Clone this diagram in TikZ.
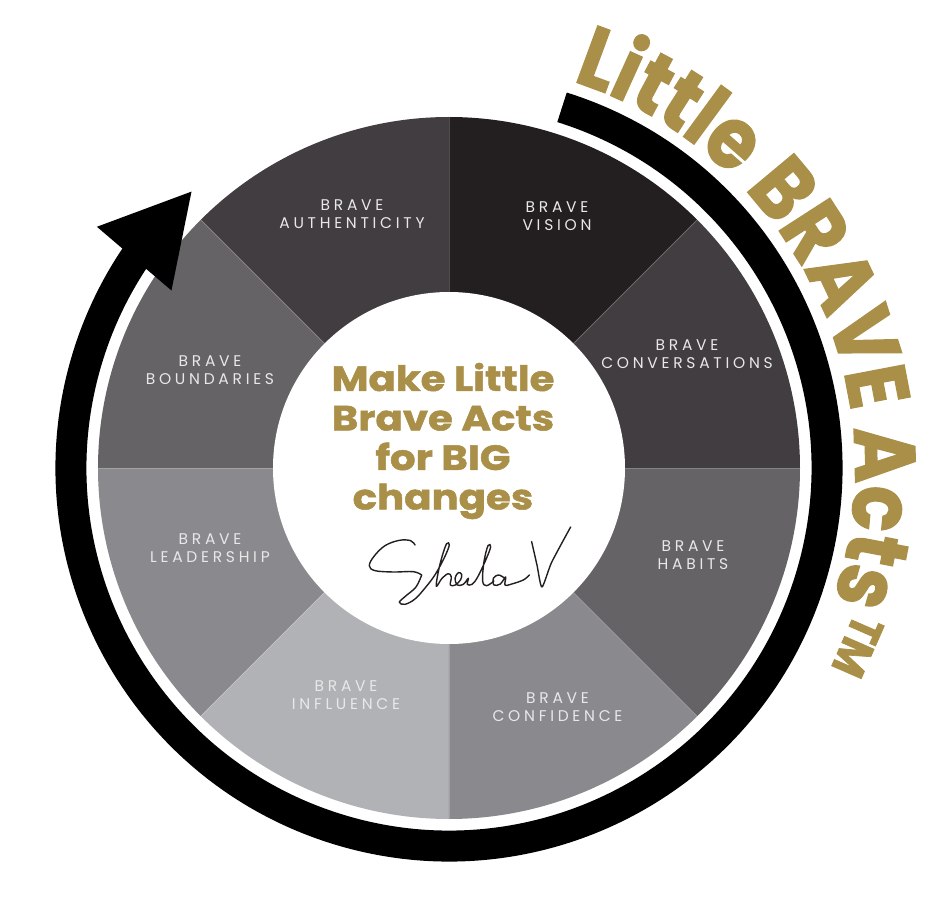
\documentclass[tikz,border=0pt]{standalone}
\usepackage{fontspec}
\setmainfont{Poppins}
\newfontfamily\lblfont[LetterSpace=24]{Poppins}
\newfontfamily\headfont[BoldFeatures={FakeBold=1.5, FakeStretch=1.15}]{Poppins}
\newfontfamily\arcfont[BoldFeatures={FakeBold=1.5, FakeStretch=0.88}]{Poppins}
\usetikzlibrary{arrows.meta, bending, decorations.text}
\definecolor{gold}{RGB}{169,143,71}
\definecolor{ink}{RGB}{35,31,32}
\definecolor{slate}{RGB}{65,61,64}
\definecolor{ash}{RGB}{101,99,102}
\definecolor{pewter}{RGB}{138,137,141}
\definecolor{silver}{RGB}{177,178,181}
\definecolor{lblgray}{RGB}{232,232,232}

\begin{document}
\begin{tikzpicture}[x=1pt, y=1pt,
  lbl/.style={align=center, text=lblgray, inner sep=0pt, font=\lblfont\fontsize{15.5}{18}\selectfont},
  motto/.style={align=center, text=gold, inner sep=0pt, font=\headfont\bfseries\fontsize{35}{39.5}\selectfont},
  tm/.style={text=gold, inner sep=0pt, font=\arcfont\bfseries\fontsize{46}{46}\selectfont},
  ring/.style={line width=31pt, -{Triangle[length=90pt, width=91pt, flex]}},
  sig/.style={line width=1.4pt, ink, line cap=round, line join=round}
]
  \useasboundingbox (-449,-440) rectangle (486,468);

  % wheel of eight sectors
  \foreach \a/\c in {0/slate, 45/ink, 90/slate, 135/ash, 180/pewter, 225/silver, 270/pewter, 315/ash}
    \fill[\c] (0,0) -- (\a:351) arc[start angle=\a, end angle=\a+45, radius=351] -- cycle;
  \foreach \a in {0,45,...,315}
    \draw[white, opacity=.2, line width=.8pt] (\a:176) -- (\a:351);
  \fill[white] (0,0) circle[radius=176];

  \node[lbl] (vision) at (108,252) {BRAVE\\VISION};
  \node[lbl] (conversations) at (238,114) {BRAVE\\CONVERSATIONS};
  \node[lbl] (habits) at (244,-87) {BRAVE\\HABITS};
  \node[lbl] (confidence) at (108.5,-239) {BRAVE\\CONFIDENCE};
  \node[lbl] (influence) at (-103,-227) {BRAVE\\INFLUENCE};
  \node[lbl] (leadership) at (-239,-80) {BRAVE\\LEADERSHIP};
  \node[lbl] (boundaries) at (-239,98) {BRAVE\\BOUNDARIES};
  \node[lbl] (authenticity) at (-97,254) {BRAVE\\AUTHENTICITY};

  \node[motto] (motto) at (-6,27) {Make Little\\Brave Acts\\for BIG\\changes};

  % signature
  \begin{scope}[shift={(-89,-57)}, x=0.3333pt, y=-0.3333pt]
    \draw[sig] plot[smooth, tension=.6] coordinates {(165,60) (152,47) (118,46) (75,62) (42,94) (28,122) (45,137) (100,141) (160,140) (185,150)};
    \draw[sig] plot[smooth, tension=.6] coordinates {(185,150) (168,186) (136,214) (118,232) (135,238) (165,222) (196,188) (226,148) (254,96) (268,60) (260,56) (247,92) (235,140) (229,184) (246,160) (265,146) (274,156) (271,180) (286,180) (302,164) (305,148) (295,143) (285,160) (292,180) (310,178) (325,160) (322,178) (336,178) (352,158) (376,108) (392,66) (384,62) (372,110) (368,168) (380,182) (402,168)};
    \draw[sig] plot[smooth, tension=.6] coordinates {(432,158) (415,150) (400,160) (402,180) (421,177) (437,156) (435,180) (452,178) (490,165) (508,150)};
    \draw[sig] plot[smooth, tension=.4] coordinates {(515,50) (531,120) (546,186) (575,112) (632,6)};
  \end{scope}

  % outer ring with arrow
  \draw[ring] (72.6:378) arc[start angle=72.6, end angle=-227.3, radius=378];

  % curved title
  \path[decorate, decoration={text along path, text align=fit to path,
    text={|\color{gold}\arcfont\bfseries\fontsize{86}{86}\selectfont|Little BRAVE Acts}}]
    (72.3:406) arc[start angle=72.3, end angle=-18.5, radius=406];
  \node[tm, rotate=-113.6] (tm) at (-23.6:446) {TM};
\end{tikzpicture}
\end{document}
